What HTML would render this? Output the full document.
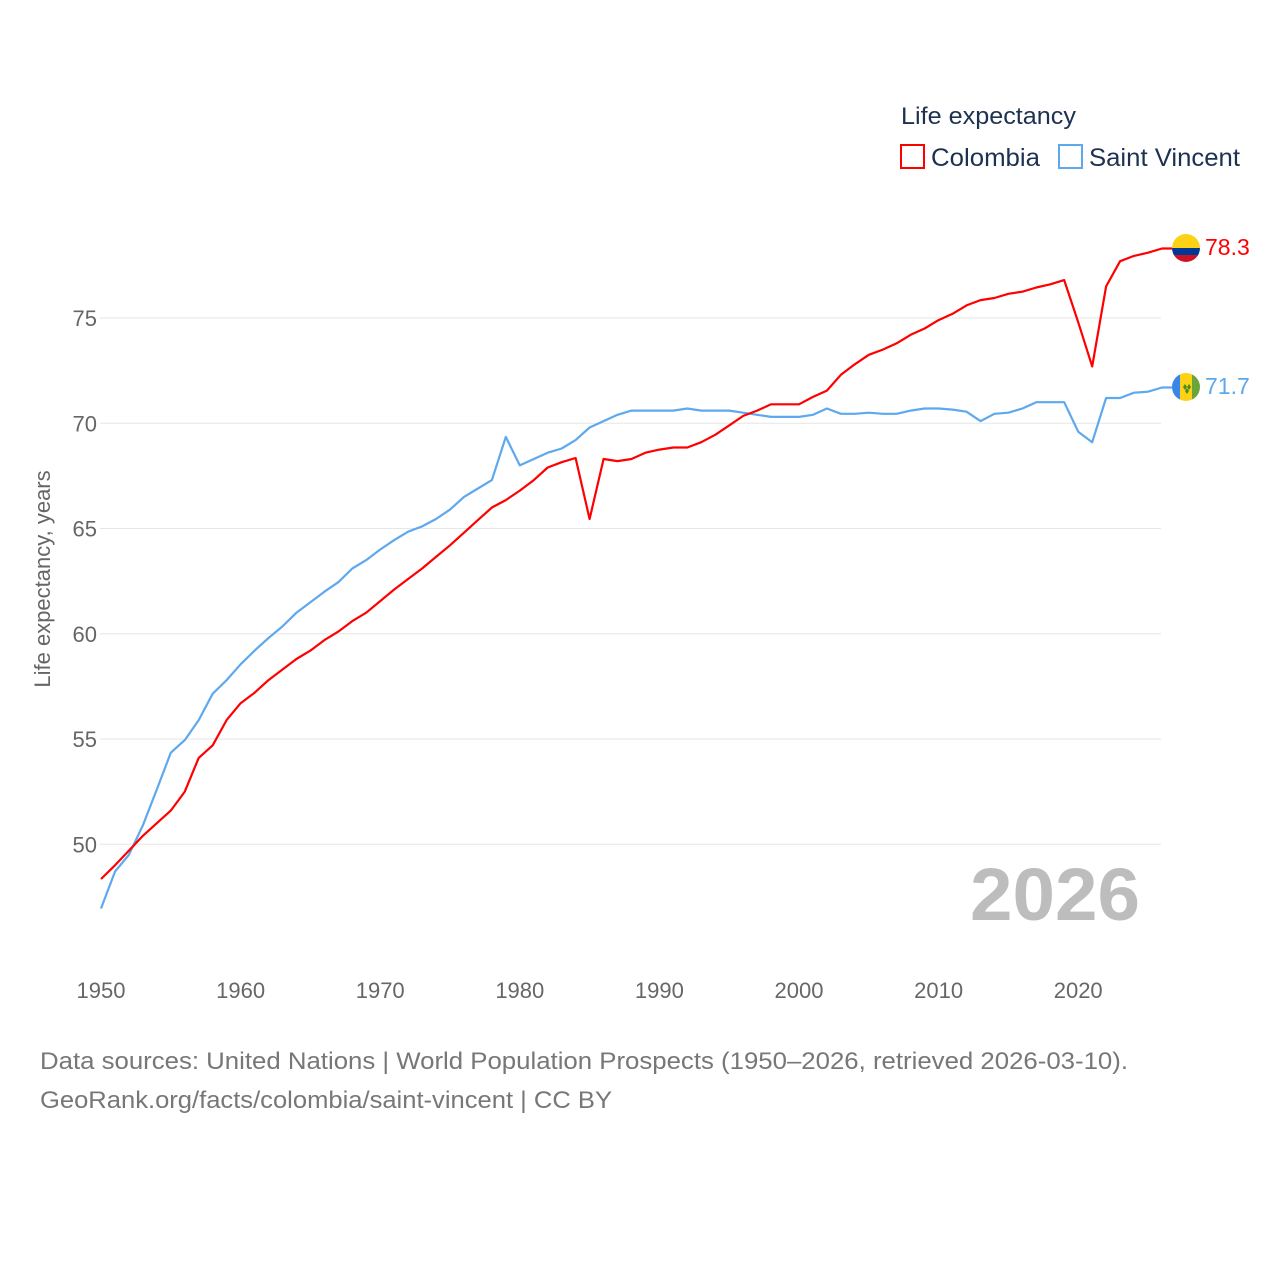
<!DOCTYPE html>
<html><head><meta charset="utf-8"><style>
html,body{margin:0;padding:0;background:#fff;}
body{width:1280px;height:1280px;position:relative;font-family:"Liberation Sans",sans-serif;overflow:hidden;}
svg text{font-family:"Liberation Sans",sans-serif;}
</style></head><body>
<svg id="chart" width="1280" height="1280" xmlns="http://www.w3.org/2000/svg">
<defs>
<clipPath id="c1"><circle cx="1186" cy="248" r="14"/></clipPath>
<clipPath id="c2"><circle cx="1186" cy="387" r="14"/></clipPath>
</defs>
<g id="grid"></g>
<g id="yticks"></g>
<g id="xticks"></g>
<text transform="translate(50,579) rotate(-90)" text-anchor="middle" font-size="22" fill="#666">Life expectancy, years</text>
<text x="970" y="920" textLength="170" lengthAdjust="spacingAndGlyphs" font-size="74" font-weight="bold" fill="#bdbdbd">2026</text>
<g id="lines"></g>
<g clip-path="url(#c1)">
<rect x="1172" y="234" width="28" height="14" fill="#fcd116"/>
<rect x="1172" y="248" width="28" height="7" fill="#003893"/>
<rect x="1172" y="255" width="28" height="7" fill="#ce1126"/>
</g>
<g clip-path="url(#c2)">
<rect x="1172" y="373" width="8" height="28" fill="#3a86e8"/>
<rect x="1180" y="373" width="12" height="28" fill="#fcd116"/>
<rect x="1192" y="373" width="8" height="28" fill="#6aa53a"/>
<path d="M1183 387l2-3 2 3-2 3zM1187 387l2-3 2 3-2 3zM1185 391l2-3 2 3-2 3z" fill="#4a8a2a"/>
</g>
<text x="1205" y="255" font-size="23" fill="#ff0000">78.3</text>
<text x="1205" y="394" font-size="23" fill="#5ea8ee">71.7</text>
<g>
<text x="901" y="124" textLength="175" lengthAdjust="spacingAndGlyphs" font-size="24" fill="#1d3150">Life expectancy</text>
<rect x="901" y="145" width="23" height="23" fill="none" stroke="#ff0000" stroke-width="2"/>
<text x="931" y="166" textLength="109" lengthAdjust="spacingAndGlyphs" font-size="25" fill="#1d3150">Colombia</text>
<rect x="1059" y="145" width="23" height="23" fill="none" stroke="#5ea8ee" stroke-width="2"/>
<text x="1089" y="166" textLength="151" lengthAdjust="spacingAndGlyphs" font-size="25" fill="#1d3150">Saint Vincent</text>
</g>
<text x="40" y="1069" textLength="1088" lengthAdjust="spacingAndGlyphs" font-size="24" fill="#777">Data sources: United Nations | World Population Prospects (1950–2026, retrieved 2026-03-10).</text>
<text x="40" y="1108" textLength="572" lengthAdjust="spacingAndGlyphs" font-size="24" fill="#777">GeoRank.org/facts/colombia/saint-vincent | CC BY</text>
</svg>
<script>
const years = []; for (let y = 1950; y <= 2026; y++) years.push(y);
const colombia = [48.35,49.0,49.7,50.4,51.0,51.6,52.5,54.1,54.7,55.9,56.7,57.2,57.8,58.3,58.8,59.2,59.7,60.1,60.6,61.0,61.55,62.1,62.6,63.1,63.65,64.2,64.8,65.4,66.0,66.35,66.8,67.3,67.9,68.15,68.35,65.45,68.3,68.2,68.3,68.6,68.75,68.85,68.85,69.1,69.45,69.9,70.35,70.6,70.9,70.9,70.9,71.25,71.55,72.3,72.8,73.25,73.5,73.8,74.2,74.5,74.9,75.2,75.6,75.85,75.95,76.15,76.25,76.45,76.6,76.8,74.8,72.7,76.5,77.7,77.95,78.1,78.3];
const saintVincent = [46.95,48.7,49.5,50.9,52.6,54.35,54.95,55.9,57.15,57.8,58.55,59.2,59.8,60.35,61.0,61.5,62.0,62.45,63.1,63.5,64.0,64.45,64.85,65.1,65.45,65.9,66.5,66.9,67.3,69.35,68.0,68.3,68.6,68.8,69.2,69.8,70.1,70.4,70.6,70.6,70.6,70.6,70.7,70.6,70.6,70.6,70.5,70.4,70.3,70.3,70.3,70.4,70.7,70.45,70.45,70.5,70.45,70.45,70.6,70.7,70.7,70.65,70.55,70.1,70.45,70.5,70.7,71.0,71.0,71.0,69.6,69.1,71.2,71.2,71.45,71.5,71.7];
const yTicks = [50,55,60,65,70,75];
const xTicks = [1950,1960,1970,1980,1990,2000,2010,2020];
const NS = "http://www.w3.org/2000/svg";
function xS(yr){ return 101 + (yr-1950)*13.96; }
function yS(v){ return 318 + (75-v)*21.05; }
const grid = document.getElementById('grid'), yt = document.getElementById('yticks'), xt = document.getElementById('xticks'), lines = document.getElementById('lines');
yTicks.forEach(v => {
  const l = document.createElementNS(NS,'line');
  
  
  l.setAttribute('x1', 100); l.setAttribute('x2', 1161);
  l.setAttribute('y1', yS(v)); l.setAttribute('y2', yS(v));
  l.setAttribute('stroke', '#e6e6e6'); l.setAttribute('stroke-width', 1);
  grid.appendChild(l);
  const t = document.createElementNS(NS,'text');
  
  
  t.setAttribute('x', 97); t.setAttribute('y', yS(v)+8);
  t.setAttribute('text-anchor', 'end'); t.setAttribute('font-size', 22); t.setAttribute('fill', '#666');
  t.textContent = v; yt.appendChild(t);
});
xTicks.forEach(v => {
  const t = document.createElementNS(NS,'text');
  
  
  t.setAttribute('x', xS(v)); t.setAttribute('y', 998);
  t.setAttribute('text-anchor', 'middle'); t.setAttribute('font-size', 22); t.setAttribute('fill', '#666');
  t.textContent = v; xt.appendChild(t);
});
function drawLine(vals, color, name){
  let d = vals.map((v,i) => (i?'L':'M') + xS(years[i]).toFixed(1) + ' ' + yS(v).toFixed(1)).join(' ');
  const last = vals[vals.length-1];
  d += ' L 1172 ' + yS(last).toFixed(1);
  const p = document.createElementNS(NS,'path');
  
  
  p.setAttribute('d', d); p.setAttribute('fill', 'none'); p.setAttribute('stroke', color);
  p.setAttribute('stroke-width', 2.2); p.setAttribute('stroke-linejoin', 'round');
  lines.appendChild(p);
}
drawLine(saintVincent, '#5ea8ee', 'saint-vincent-line');
drawLine(colombia, '#ff0000', 'colombia-line');
</script>
</body></html>
